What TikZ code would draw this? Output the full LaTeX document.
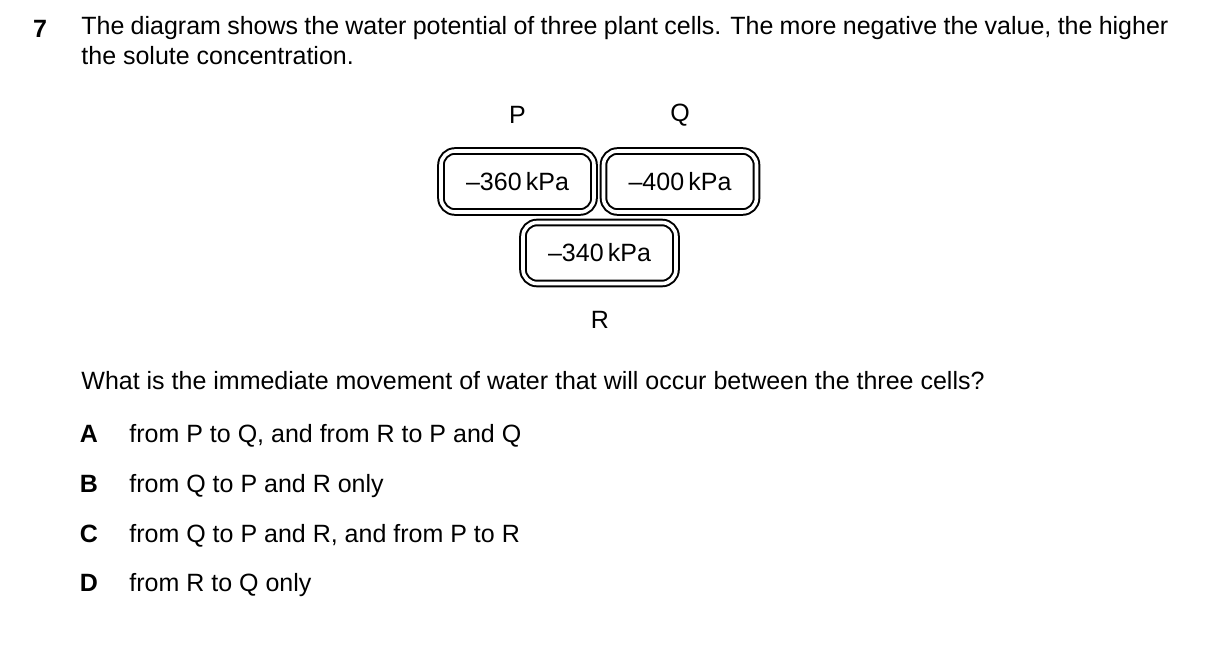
\documentclass[tikz,border=0pt]{standalone}
\usepackage{fontspec}
\setmainfont{Liberation Sans}
\begin{document}
\begin{tikzpicture}[x=0.5pt,y=-0.5pt]
\tikzset{
  txt/.style={font=\fontsize{12.5}{15.2}\selectfont, inner sep=0pt},
  cell/.style={draw, rounded corners=7pt, line width=1pt, double, double distance=1.8pt,
    minimum width=76.5pt, minimum height=30.5pt, font=\fontsize{12.5}{14}\selectfont},
  opt/.style={txt, font=\fontsize{12.5}{14}\selectfont\bfseries}
}
\useasboundingbox (0,0) rectangle (1209,648);
% question
\node[opt, anchor=base] (qn) at (40,37) {7};
\node[txt, anchor=north west, text width=543.5pt, align=justify] (stem) at (81,16)
  {The diagram shows the water potential of three plant cells. The more negative the value, the higher the solute concentration.};
% cells
\node[cell] (cP) at (517.5,181.5) {--360\,kPa};
\node[cell] (cQ) at (680,181.5) {--400\,kPa};
\node[cell] (cR) at (599.5,253) {--340\,kPa};
\node[txt] (lP) at (517.5,115) {P};
\node[txt] (lQ) at (680,115) {Q};
\node[txt] (lR) at (600,320) {R};
% options
\node[txt, anchor=base west] (ask) at (81,389) {What is the immediate movement of water that will occur between the three cells?};
\foreach \l/\t/\y in {A/{from P to Q, and from R to P and Q}/442,
                      B/{from Q to P and R only}/492,
                      C/{from Q to P and R, and from P to R}/542,
                      D/{from R to Q only}/591}{
  \node[opt, anchor=base] (o\l) at (89,\y) {\l};
  \node[txt, anchor=base west] (t\l) at (129,\y) {\t};
}
\end{tikzpicture}
\end{document}
